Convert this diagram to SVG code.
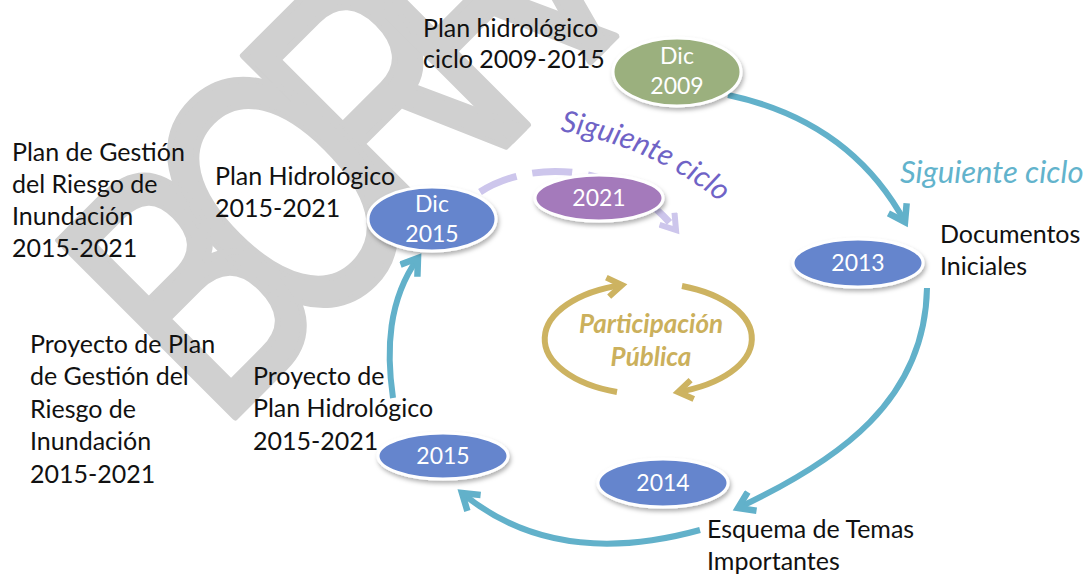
<svg xmlns="http://www.w3.org/2000/svg" width="1086" height="576" viewBox="0 0 1086 576">
<defs>
<style>
.lbl{font-family:Lato,"Liberation Sans",sans-serif;font-size:25px;fill:#111}
.nt{font-family:Lato,"Liberation Sans",sans-serif;font-size:23px;fill:#fff;text-anchor:middle}
.node ellipse{stroke:#fff;stroke-width:3;filter:url(#sh)}
.teal{fill:none;stroke:#62b1ca;stroke-width:6;marker-end:url(#aT)}
.wm{font-family:"Liberation Sans",Arial,sans-serif;font-size:250px;letter-spacing:-50px;fill:#d0d0d0;stroke:#d0d0d0;stroke-width:6;stroke-linejoin:round;vector-effect:non-scaling-stroke}
.pp{font-family:Lato,"Liberation Sans",sans-serif;font-size:26px;font-weight:bold;font-style:italic;fill:#cbb05c;text-anchor:middle}
</style>
<filter id="sh" x="-20%" y="-20%" width="140%" height="150%">
<feDropShadow dx="1.5" dy="3" stdDeviation="2" flood-color="#000" flood-opacity="0.3"/>
</filter>
<marker id="aT" viewBox="0 0 20 20" refX="15" refY="10" markerWidth="26" markerHeight="26" markerUnits="userSpaceOnUse" orient="auto">
<path d="M3,2 L15,10 L3,18" fill="none" stroke="#62b1ca" stroke-width="5"/>
</marker>
<marker id="aL" viewBox="0 0 20 20" refX="15" refY="10" markerWidth="24" markerHeight="24" markerUnits="userSpaceOnUse" orient="auto">
<path d="M3,2 L15,10 L3,18" fill="none" stroke="#cdc6ec" stroke-width="5"/>
</marker>
<marker id="aG" viewBox="0 0 20 20" refX="15" refY="10" markerWidth="24" markerHeight="24" markerUnits="userSpaceOnUse" orient="auto">
<path d="M3,2 L15,10 L3,18" fill="none" stroke="#cdb361" stroke-width="5"/>
</marker>
<path id="arcTxt" d="M 560,131 Q 662,148 736,216"/>
</defs>
<rect width="1086" height="576" fill="#fff"/>

<g id="watermark">
<text class="wm" transform="translate(220,432) rotate(-45) scale(1,1.45)">BORRADOR</text>
</g>

<g id="connectors">
<path class="teal" d="M 728,95 Q 850,121 905,222"/>
<path class="teal" d="M 927,288 C 925,400 840,460 738,508"/>
<path class="teal" d="M 700,530 Q 555,570 462,493"/>
<path class="teal" d="M 393,398 C 386,350 388,300 418,258"/>
<path d="M 480,192 C 530,160 620,160 676,230" fill="none" stroke="#cdc6ec" stroke-width="7" stroke-dasharray="40 16" marker-end="url(#aL)"/>
<path d="M 617,392 A 106,56 0 0 1 622,285" fill="none" stroke="#cdb361" stroke-width="6" marker-end="url(#aG)"/>
<path d="M 682,286 A 106,56 0 0 1 678,392" fill="none" stroke="#cdb361" stroke-width="6" marker-end="url(#aG)"/>
</g>

<g id="n-dic2009" class="node">
<ellipse cx="677" cy="72" rx="64" ry="34" fill="#9bb07e"/>
<text class="nt" x="677" y="64">Dic</text>
<text class="nt" x="677" y="94">2009</text>
</g>
<g id="n-2021" class="node">
<ellipse cx="599" cy="198" rx="64" ry="23" fill="#a47abb"/>
<text class="nt" x="599" y="206">2021</text>
</g>
<g id="n-dic2015" class="node">
<ellipse cx="432" cy="219" rx="64" ry="32" fill="#6585cd"/>
<text class="nt" x="432" y="212">Dic</text>
<text class="nt" x="432" y="242">2015</text>
</g>
<g id="n-2013" class="node">
<ellipse cx="858" cy="263" rx="65" ry="24" fill="#6585cd"/>
<text class="nt" x="858" y="271">2013</text>
</g>
<g id="n-2014" class="node">
<ellipse cx="663" cy="483" rx="65" ry="24" fill="#6585cd"/>
<text class="nt" x="663" y="491">2014</text>
</g>
<g id="n-2015" class="node">
<ellipse cx="443" cy="456" rx="65" ry="23" fill="#6585cd"/>
<text class="nt" x="443" y="464">2015</text>
</g>

<g id="labels">
<text class="lbl" x="423" y="37">Plan hidrológico</text>
<text class="lbl" x="423" y="68">ciclo 2009-2015</text>
<text class="lbl" x="12" y="161">Plan de Gestión</text>
<text class="lbl" x="12" y="193">del Riesgo de</text>
<text class="lbl" x="12" y="225">Inundación</text>
<text class="lbl" x="12" y="257">2015-2021</text>
<text class="lbl" x="215" y="185">Plan Hidrológico</text>
<text class="lbl" x="215" y="217">2015-2021</text>
<text class="lbl" x="30" y="353">Proyecto de Plan</text>
<text class="lbl" x="30" y="385">de Gestión del</text>
<text class="lbl" x="30" y="418">Riesgo de</text>
<text class="lbl" x="30" y="450">Inundación</text>
<text class="lbl" x="30" y="483">2015-2021</text>
<text class="lbl" x="253" y="385">Proyecto de</text>
<text class="lbl" x="253" y="417">Plan Hidrológico</text>
<text class="lbl" x="253" y="450">2015-2021</text>
<text class="lbl" x="940" y="243">Documentos</text>
<text class="lbl" x="940" y="275">Iniciales</text>
<text class="lbl" x="707" y="538">Esquema de Temas</text>
<text class="lbl" x="707" y="570">Importantes</text>
<text x="900" y="183" font-family="Lato,'Liberation Sans',sans-serif" font-size="31" font-style="italic" fill="#62b3cc">Siguiente ciclo</text>
<text font-family="Lato,'Liberation Sans',sans-serif" font-size="30" font-style="italic" fill="#6f63c6"><textPath href="#arcTxt">Siguiente ciclo</textPath></text>
<text class="pp" x="651" y="333">Participación</text>
<text class="pp" x="651" y="366">Pública</text>
</g>
</svg>
